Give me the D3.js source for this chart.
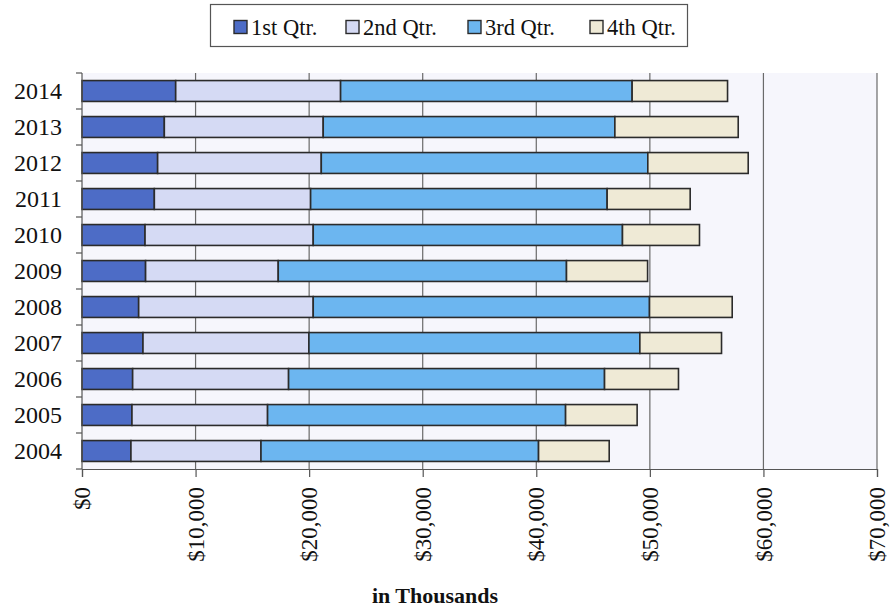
<!DOCTYPE html>
<html>
<head>
<meta charset="utf-8">
<script src="https://cdn.jsdelivr.net/npm/d3@7/dist/d3.min.js"></script>
<style>
  html, body { margin: 0; padding: 0; background: #ffffff; }
  svg { display: block; }
  text { font-family: "Liberation Serif", "DejaVu Serif", serif; fill: #111; }
</style>
</head>
<body>
<svg id="chart" width="890" height="609"></svg>
<script>
// Years, top to bottom
const years = ["2014", "2013", "2012", "2011", "2010", "2009", "2008", "2007", "2006", "2005", "2004"];
// Quarterly amounts (in thousands of dollars), same order as years
const q1 = [8250, 7250, 6660, 6370, 5550, 5600, 4990, 5370, 4460, 4400, 4310];
const q2 = [14520, 13990, 14410, 13760, 14810, 11680, 15370, 14610, 13730, 11940, 11450];
const q3 = [25670, 25680, 28750, 26110, 27230, 25380, 29610, 29140, 27820, 26240, 24440];
const q4 = [8400, 10860, 8840, 7310, 6780, 7140, 7280, 7190, 6510, 6300, 6220];
const seriesNames = ["1st Qtr.", "2nd Qtr.", "3rd Qtr.", "4th Qtr."];
const xTicks = [0, 10000, 20000, 30000, 40000, 50000, 60000, 70000];
const xTitle = "in Thousands";

const colors = ["#4d6cc6", "#d5daf4", "#6cb6f0", "#efead6"];

const svg = d3.select("#chart");
const plot = { left: 82, right: 877, top: 73, bottom: 469 };

const x = d3.scaleLinear().domain([0, 70000]).range([plot.left, plot.right]);
const y = d3.scaleBand().domain(years).range([plot.top, plot.bottom]).paddingInner(0.42).paddingOuter(0.21);

// Plot area background
svg.append("rect")
  .attr("x", plot.left).attr("y", plot.top)
  .attr("width", plot.right - plot.left).attr("height", plot.bottom - plot.top)
  .attr("fill", "#f6f6fc");

// Vertical gridlines
svg.append("g").selectAll("line")
  .data(xTicks.slice(1))
  .join("line")
  .attr("x1", d => x(d)).attr("x2", d => x(d))
  .attr("y1", plot.top).attr("y2", plot.bottom)
  .attr("stroke", "#6a6a6a").attr("stroke-width", 1.2);

// Stacked bars
const rows = years.map((yr, i) => ({ year: yr, 0: q1[i], 1: q2[i], 2: q3[i], 3: q4[i] }));
const stacked = d3.stack().keys([0, 1, 2, 3])(rows);

svg.append("g").selectAll("g")
  .data(stacked)
  .join("g")
  .attr("fill", (d, i) => colors[i])
  .selectAll("rect")
  .data(d => d)
  .join("rect")
  .attr("x", d => x(d[0]))
  .attr("y", d => y(d.data.year))
  .attr("width", d => x(d[1]) - x(d[0]))
  .attr("height", y.bandwidth())
  .attr("stroke", "#2b2b2b")
  .attr("stroke-width", 1.6);

// Left (category) axis: line plus ticks at band boundaries
const boundaries = d3.range(years.length + 1).map(i => plot.top + i * (plot.bottom - plot.top) / years.length);
const yAxisG = svg.append("g");
yAxisG.append("line")
  .attr("x1", plot.left).attr("x2", plot.left)
  .attr("y1", plot.top).attr("y2", plot.bottom)
  .attr("stroke", "#555").attr("stroke-width", 1.2);
yAxisG.selectAll("line.tick")
  .data(boundaries)
  .join("line").attr("class", "tick")
  .attr("x1", plot.left - 6).attr("x2", plot.left)
  .attr("y1", d => d).attr("y2", d => d)
  .attr("stroke", "#555").attr("stroke-width", 1.2);
yAxisG.selectAll("text")
  .data(years)
  .join("text")
  .attr("x", 62)
  .attr("y", d => y(d) + y.bandwidth() / 2)
  .attr("dy", "0.35em")
  .attr("text-anchor", "end")
  .attr("font-size", 24)
  .text(d => d);

// Bottom (value) axis
const xAxis = d3.axisBottom(x)
  .tickValues(xTicks)
  .tickSize(8)
  .tickFormat(d => "$" + d3.format(",")(d));
const xAxisG = svg.append("g")
  .attr("transform", `translate(0,${plot.bottom})`)
  .call(xAxis);
xAxisG.select(".domain").attr("stroke", "#555").attr("stroke-width", 1.2);
xAxisG.selectAll(".tick line").attr("stroke", "#555").attr("stroke-width", 1.2);
xAxisG.selectAll(".tick text")
  .attr("font-size", 23)
  .attr("font-family", "Liberation Serif, serif")
  .attr("fill", "#111")
  .attr("transform", "rotate(-90)")
  .attr("x", -18)
  .attr("y", 0)
  .attr("dy", "0.33em")
  .attr("text-anchor", "end");

// Axis title
svg.append("text")
  .attr("x", 435).attr("y", 603)
  .attr("text-anchor", "middle")
  .attr("font-size", 22)
  .attr("font-weight", "bold")
  .text(xTitle);

// Legend
const legend = svg.append("g");
legend.append("rect")
  .attr("x", 210.5).attr("y", 4.5)
  .attr("width", 477).attr("height", 42)
  .attr("fill", "#ffffff").attr("stroke", "#555").attr("stroke-width", 1.2);
const legendX = [234, 346, 468, 590];
const items = legend.selectAll("g.item")
  .data(seriesNames)
  .join("g").attr("class", "item")
  .attr("transform", (d, i) => `translate(${legendX[i]},27)`);
items.append("rect")
  .attr("x", 0).attr("y", -6.5)
  .attr("width", 13).attr("height", 13)
  .attr("fill", (d, i) => colors[i])
  .attr("stroke", "#2b2b2b").attr("stroke-width", 1.4);
items.append("text")
  .attr("x", 17).attr("y", 0)
  .attr("dy", "0.35em")
  .attr("font-size", 22.5)
  .text(d => d);
</script>
</body>
</html>
